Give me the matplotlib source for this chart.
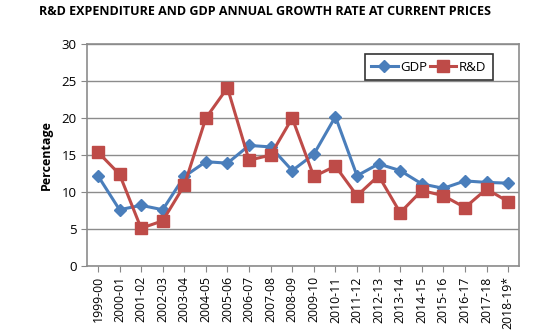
import matplotlib.pyplot as plt

years = ['1999-00', '2000-01', '2001-02', '2002-03', '2003-04', '2004-05',
         '2005-06', '2006-07', '2007-08', '2008-09', '2009-10', '2010-11',
         '2011-12', '2012-13', '2013-14', '2014-15', '2015-16', '2016-17',
         '2017-18', '2018-19*']
gdp = [12.2, 7.6, 8.2, 7.6, 12.1, 14.1, 13.9, 16.3, 16.1, 12.9,
       15.1, 20.2, 12.2, 13.8, 12.9, 11.1, 10.5, 11.5, 11.3, 11.2]
rnd = [15.4, 12.4, 5.1, 6.1, 10.9, 20.0, 24.1, 14.3, 15.0, 20.0,
       12.1, 13.5, 9.5, 12.2, 7.2, 10.2, 9.5, 7.9, 10.4, 8.7]

plt.rcParams['font.family'] = ['Open Sans', 'DejaVu Sans']

fig = plt.figure(figsize=(5.55, 3.32), dpi=100)
ax = fig.add_axes([0.157, 0.199, 0.778, 0.668])

x = range(len(years))
ax.plot(x, gdp, color='#4a7ebb', lw=2.2, marker='D', ms=6, label='GDP')
ax.plot(x, rnd, color='#be4b48', lw=2.2, marker='s', ms=8, label='R&D')

ax.set_xlim(-0.5, len(years) - 0.5)
ax.set_ylim(0, 30)
ax.set_yticks(range(0, 31, 5))
ax.set_xticks(list(x))
ax.set_xticklabels(years, rotation=90, fontsize=8.8)
ax.tick_params(axis='y', labelsize=9.5, length=4, color='#888888')
ax.tick_params(axis='x', length=4, color='#888888')
ax.yaxis.grid(True, color='#8c8c8c', lw=1)
ax.set_axisbelow(True)
for s in ax.spines.values():
    s.set_color('#8c8c8c')
    s.set_linewidth(1.2)

ax.set_ylabel('Percentage', fontsize=9, fontweight='bold', labelpad=6)

leg = ax.legend(loc='upper right', ncol=2, fontsize=9.5, frameon=True,
                fancybox=False, edgecolor='black', handlelength=2.0,
                columnspacing=0.2, handletextpad=0.2,
                borderpad=0.5, bbox_to_anchor=(0.955, 0.985))
leg.get_frame().set_linewidth(1.2)

fig.text(0.478, 0.965, 'R&D EXPENDITURE AND GDP ANNUAL GROWTH RATE AT CURRENT PRICES',
         ha='center', va='center', fontsize=9.0, fontweight='bold')

fig.savefig('out.png', dpi=100)
